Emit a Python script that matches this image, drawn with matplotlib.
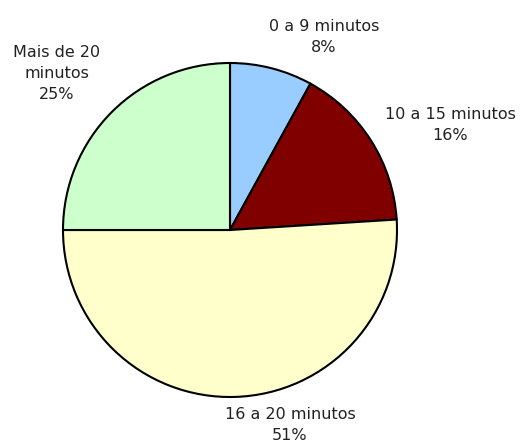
import matplotlib
matplotlib.use("Agg")
import matplotlib.pyplot as plt

labels = ["0 a 9 minutos", "10 a 15 minutos", "16 a 20 minutos", "Mais de 20\nminutos"]
values = [8, 16, 51, 25]
colors = ["#99CCFF", "#800000", "#FFFFCC", "#CCFFCC"]
# label centres in pie units (radius = 1)
label_pos = [(0.563, 1.156), (1.317, 0.629), (0.359, -1.165), (-1.036, 0.940)]

plt.rcParams["font.family"] = ["DejaVu Sans"]
fig = plt.figure(figsize=(5.23, 4.44), dpi=100)
fig.patch.set_facecolor("white")
ax = fig.add_axes([63 / 523, 47 / 444, 334 / 523, 334 / 444])

ax.pie(values, colors=colors, startangle=90, counterclock=False,
       wedgeprops=dict(edgecolor="black", linewidth=1.5))
ax.set_xlim(-1, 1); ax.set_ylim(-1, 1)
ax.set_aspect("equal")
ax.axis("off")

for lab, v, (x, y) in zip(labels, values, label_pos):
    ax.text(x, y, f"{lab}\n{v}%", ha="center", va="center", fontsize=11.5,
            linespacing=1.5, color="#222222", clip_on=False)

fig.savefig("out.png", dpi=100)
